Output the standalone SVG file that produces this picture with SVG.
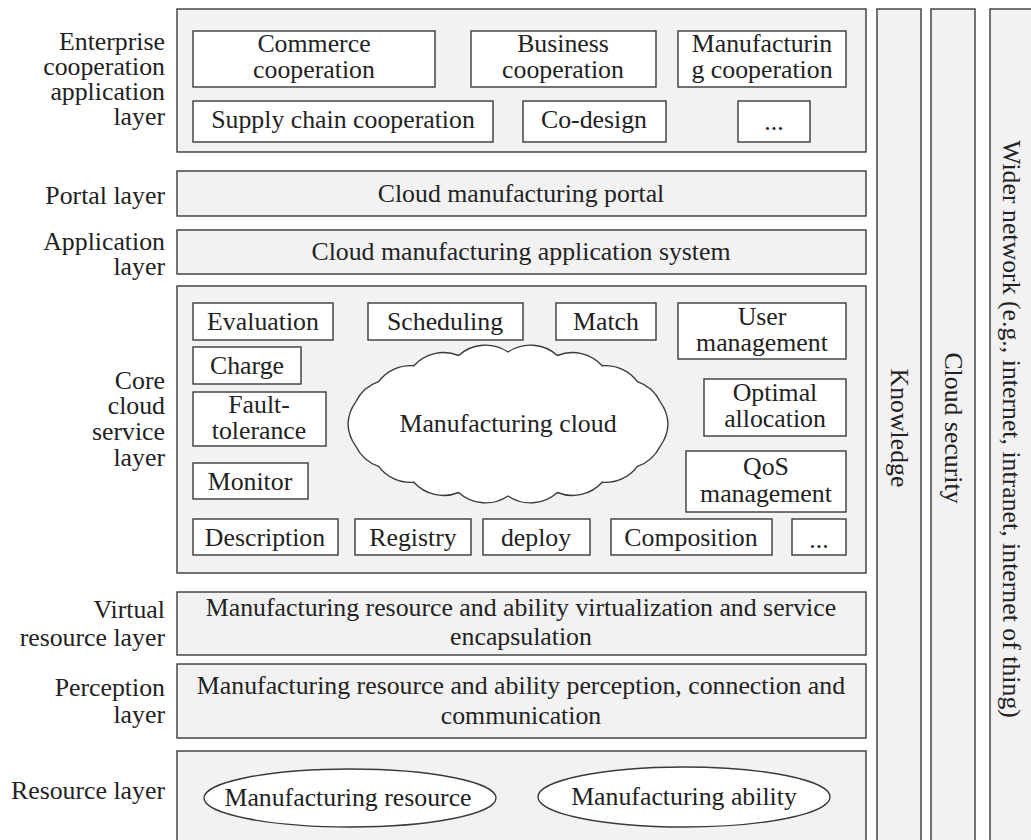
<svg xmlns="http://www.w3.org/2000/svg" width="1031" height="840" viewBox="0 0 1031 840">
<style>
text{font-family:'Liberation Serif','DejaVu Serif','Noto Serif',Times,serif;font-size:25.8px;fill:#222;}
.l{text-anchor:end;}
.c{text-anchor:middle;}
.layer{fill:#f2f2f2;stroke:#3a3a3a;stroke-width:1.4;}
.box{fill:#fff;stroke:#3a3a3a;stroke-width:1.4;}
</style>
<rect width="1031" height="840" fill="#fff"/>
<g id="labels">
<text class="l" x="165" y="50">Enterprise</text>
<text class="l" x="165" y="75">cooperation</text>
<text class="l" x="165" y="100">application</text>
<text class="l" x="165" y="125">layer</text>
<text class="l" x="165" y="204">Portal layer</text>
<text class="l" x="165" y="250">Application</text>
<text class="l" x="165" y="275">layer</text>
<text class="l" x="165" y="389">Core</text>
<text class="l" x="165" y="414">cloud</text>
<text class="l" x="165" y="440">service</text>
<text class="l" x="165" y="466">layer</text>
<text class="l" x="165" y="618">Virtual</text>
<text class="l" x="165" y="646">resource layer</text>
<text class="l" x="165" y="696">Perception</text>
<text class="l" x="165" y="723">layer</text>
<text class="l" x="165" y="799">Resource layer</text>
</g>
<g id="enterprise-layer">
<rect class="layer" x="177" y="9" width="689" height="143"/>
<g id="commerce"><rect class="box" x="193" y="31" width="242" height="56"/><text class="c" x="314" y="52">Commerce</text><text class="c" x="314" y="78">cooperation</text></g>
<g id="business"><rect class="box" x="471" y="31" width="185" height="56"/><text class="c" x="563" y="52">Business</text><text class="c" x="563" y="78">cooperation</text></g>
<g id="manufacturing-coop"><rect class="box" x="678" y="31" width="168" height="56"/><text class="c" x="762" y="52">Manufacturin</text><text class="c" x="762" y="78">g cooperation</text></g>
<g id="supply"><rect class="box" x="193" y="101" width="300" height="41"/><text class="c" x="343" y="128">Supply chain cooperation</text></g>
<g id="codesign"><rect class="box" x="523" y="101" width="143" height="41"/><text class="c" x="594" y="128">Co-design</text></g>
<g id="etc1"><rect class="box" x="738" y="101" width="72" height="41"/><text class="c" x="774" y="130">...</text></g>
</g>
<g id="portal-layer"><rect class="layer" x="177" y="171" width="689" height="45"/><text class="c" x="521" y="202">Cloud manufacturing portal</text></g>
<g id="application-layer"><rect class="layer" x="177" y="230" width="689" height="44"/><text class="c" x="521" y="260">Cloud manufacturing application system</text></g>
<g id="core-layer">
<rect class="layer" x="177" y="286" width="689" height="287"/>
<g id="cloud"><path fill="#fff" stroke="#3a3a3a" stroke-width="1.4" d="M668,424 A40,40 0 0 1 660.2,446.2 A40,40 0 0 1 637.4,466.3 A40,40 0 0 1 602.1,482.2 A40,40 0 0 1 557.4,492.5 A40,40 0 0 1 508,496 A40,40 0 0 1 458.6,492.5 A40,40 0 0 1 413.9,482.2 A40,40 0 0 1 378.6,466.3 A40,40 0 0 1 355.8,446.2 A40,40 0 0 1 348,424 A40,40 0 0 1 355.8,401.8 A40,40 0 0 1 378.6,381.7 A40,40 0 0 1 413.9,365.8 A40,40 0 0 1 458.6,355.5 A40,40 0 0 1 508,352 A40,40 0 0 1 557.4,355.5 A40,40 0 0 1 602.1,365.8 A40,40 0 0 1 637.4,381.7 A40,40 0 0 1 660.2,401.8 A40,40 0 0 1 668,424 Z"/><text class="c" x="508" y="432">Manufacturing cloud</text></g>
<g id="evaluation"><rect class="box" x="193" y="303" width="140" height="37"/><text class="c" x="263" y="330">Evaluation</text></g>
<g id="scheduling"><rect class="box" x="368" y="303" width="155" height="37"/><text class="c" x="445" y="330">Scheduling</text></g>
<g id="match"><rect class="box" x="556" y="303" width="100" height="37"/><text class="c" x="606" y="330">Match</text></g>
<g id="user-mgmt"><rect class="box" x="678" y="303" width="168" height="56"/><text class="c" x="762" y="325">User</text><text class="c" x="762" y="351">management</text></g>
<g id="charge"><rect class="box" x="193" y="347" width="108" height="37"/><text class="c" x="247" y="374">Charge</text></g>
<g id="fault"><rect class="box" x="193" y="392" width="133" height="54"/><text class="c" x="259" y="413">Fault-</text><text class="c" x="259" y="439">tolerance</text></g>
<g id="optimal"><rect class="box" x="704" y="379" width="142" height="57"/><text class="c" x="775" y="401">Optimal</text><text class="c" x="775" y="427">allocation</text></g>
<g id="qos"><rect class="box" x="686" y="451" width="160" height="61"/><text class="c" x="766" y="475">QoS</text><text class="c" x="766" y="502">management</text></g>
<g id="monitor"><rect class="box" x="193" y="463" width="115" height="36"/><text class="c" x="250" y="490">Monitor</text></g>
<g id="description"><rect class="box" x="193" y="519" width="145" height="36"/><text class="c" x="265" y="546">Description</text></g>
<g id="registry"><rect class="box" x="355" y="519" width="116" height="36"/><text class="c" x="413" y="546">Registry</text></g>
<g id="deploy"><rect class="box" x="483" y="519" width="107" height="36"/><text class="c" x="536" y="546">deploy</text></g>
<g id="composition"><rect class="box" x="611" y="519" width="161" height="36"/><text class="c" x="691" y="546">Composition</text></g>
<g id="etc2"><rect class="box" x="792" y="519" width="54" height="36"/><text class="c" x="819" y="548">...</text></g>
</g>
<g id="virtual-layer"><rect class="layer" x="177" y="592" width="689" height="63"/><text class="c" x="521" y="616">Manufacturing resource and ability virtualization and service</text><text class="c" x="521" y="645">encapsulation</text></g>
<g id="perception-layer"><rect class="layer" x="177" y="664" width="689" height="74"/><text class="c" x="521" y="694">Manufacturing resource and ability perception, connection and</text><text class="c" x="521" y="724">communication</text></g>
<g id="resource-layer">
<rect class="layer" x="177" y="751" width="689" height="100"/>
<g id="mfg-resource"><ellipse cx="350" cy="798" rx="146" ry="29" fill="#fff" stroke="#3a3a3a" stroke-width="1.4"/><text class="c" x="348" y="806">Manufacturing resource</text></g>
<g id="mfg-ability"><ellipse cx="684" cy="797" rx="146" ry="30" fill="#fff" stroke="#3a3a3a" stroke-width="1.4"/><text class="c" x="684" y="805">Manufacturing ability</text></g>
</g>
<g id="knowledge"><rect class="layer" x="877" y="9" width="44" height="842"/><text class="c" transform="translate(899,428) rotate(90)" x="0" y="8">Knowledge</text></g>
<g id="cloud-security"><rect class="layer" x="931" y="9" width="44" height="842"/><text class="c" transform="translate(953,428) rotate(90)" x="0" y="8">Cloud security</text></g>
<g id="wider-network"><rect class="layer" x="990" y="9" width="46" height="842"/><text class="c" transform="translate(1011,429) rotate(90)" x="0" y="8">Wider network (e.g., internet, intranet, internet of thing)</text></g>
<g id="connectors"></g>
</svg>
